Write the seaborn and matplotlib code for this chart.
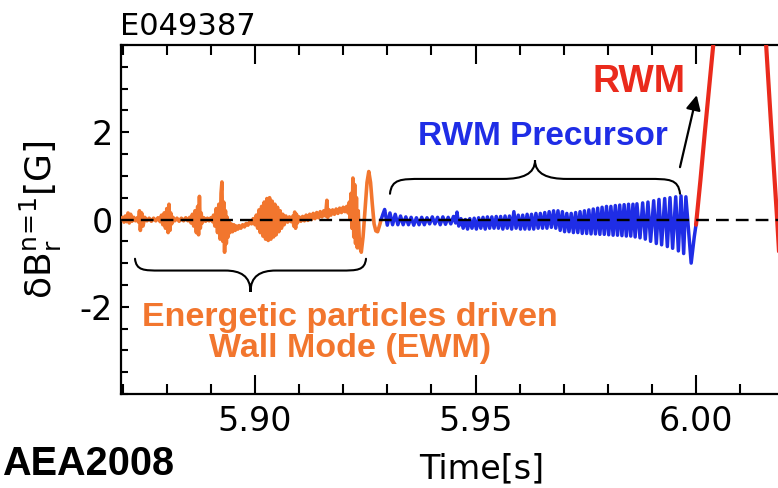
import matplotlib
matplotlib.use("Agg")
import matplotlib.pyplot as plt
from matplotlib.path import Path
from matplotlib.patches import PathPatch
from matplotlib.ticker import MultipleLocator
import seaborn as sns

# ---------------- data ----------------
orange_t = [5.8697, 5.8700, 5.8703, 5.8706, 5.8709, 5.8712, 5.8715, 5.8718, 5.8721, 5.8725,
            5.8729, 5.8733, 5.8736, 5.8738, 5.8740, 5.8743, 5.8746, 5.8750, 5.8755, 5.8760,
            5.8765, 5.8770, 5.8775, 5.8780, 5.8785, 5.8788, 5.8791, 5.8794, 5.8797, 5.8800,
            5.8803, 5.8805, 5.8807, 5.8809, 5.8811, 5.8814, 5.8818, 5.8823, 5.8828, 5.8833,
            5.8838, 5.8843, 5.8848, 5.8852, 5.8855, 5.8858, 5.8861, 5.8864, 5.8867, 5.8870,
            5.8872, 5.8874, 5.8876, 5.8878, 5.8880, 5.8884, 5.8888, 5.8892, 5.8896, 5.8900,
            5.8904, 5.8906, 5.8909, 5.8912, 5.8915, 5.8918, 5.8921, 5.8923, 5.8925, 5.8927,
            5.8929, 5.8931, 5.8933, 5.8935, 5.8937, 5.8939, 5.8941, 5.8943, 5.8946, 5.8949,
            5.8952, 5.8955, 5.8958, 5.8961, 5.8964, 5.8968, 5.8972, 5.8976, 5.8980, 5.8984,
            5.8988, 5.8992, 5.8996, 5.9000, 5.9003, 5.9006, 5.9009, 5.9012, 5.9015, 5.9018,
            5.9021, 5.9024, 5.9027, 5.9030, 5.9033, 5.9036, 5.9039, 5.9042, 5.9045, 5.9048,
            5.9051, 5.9054, 5.9057, 5.9060, 5.9063, 5.9066, 5.9070, 5.9074, 5.9078, 5.9082,
            5.9086, 5.9088, 5.9090, 5.9092, 5.9094, 5.9096, 5.9100, 5.9104, 5.9108, 5.9112,
            5.9116, 5.9120, 5.9124, 5.9128, 5.9132, 5.9136, 5.9140, 5.9144, 5.9148, 5.9152,
            5.9156, 5.9160, 5.9163, 5.9165, 5.9168, 5.9172, 5.9176, 5.9180, 5.9184, 5.9188,
            5.9192, 5.9196, 5.9200, 5.9204, 5.9208, 5.9211, 5.9214, 5.9216, 5.9218, 5.9220,
            5.9222, 5.9224, 5.9226, 5.9228, 5.9230, 5.9232, 5.9234, 5.9237, 5.9241, 5.9245,
            5.9250, 5.9254, 5.9258, 5.9262, 5.9266, 5.9270, 5.9274, 5.9278, 5.9282, 5.9286]
orange_v = [0.00, 0.05, -0.06, 0.08, -0.05, 0.15, -0.08, 0.12, -0.04, 0.05,
            -0.03, 0.04, -0.06, 0.20, -0.25, 0.15, -0.15, 0.05, -0.03, 0.03,
            -0.04, 0.03, -0.03, 0.04, -0.05, 0.10, -0.12, 0.15, -0.20, 0.25,
            -0.30, 0.35, -0.25, 0.15, -0.10, 0.05, -0.03, 0.03, -0.04, 0.03,
            -0.03, 0.04, -0.03, 0.05, -0.08, 0.12, -0.15, 0.20, -0.30, 0.30,
            -0.35, 0.53, -0.20, 0.15, -0.08, 0.04, -0.04, 0.03, -0.03, 0.04,
            -0.05, 0.10, -0.15, 0.25, -0.30, 0.35, -0.45, 0.60, 0.86, -0.50,
            0.40, -0.75, 0.20, -0.55, 0.05, -0.40, -0.05, -0.30, -0.10, -0.28,
            -0.12, -0.25, -0.15, -0.22, -0.14, -0.20, -0.12, -0.17, -0.09, -0.13,
            -0.05, -0.10, 0.02, -0.12, 0.10, -0.20, 0.22, -0.30, 0.30, -0.38,
            0.40, -0.45, 0.48, -0.48, 0.50, -0.45, 0.42, -0.40, 0.35, -0.35,
            0.28, -0.28, 0.20, -0.20, 0.12, -0.12, 0.08, -0.06, 0.06, -0.05,
            0.08, -0.15, 0.17, -0.20, 0.12, -0.08, 0.06, -0.04, 0.07, -0.03,
            0.10, -0.02, 0.12, 0.00, 0.14, 0.02, 0.16, 0.04, 0.18, 0.06,
            0.20, 0.08, 0.44, 0.05, 0.22, 0.10, 0.22, 0.12, 0.24, 0.14,
            0.26, 0.16, 0.28, 0.18, 0.30, 0.15, 0.40, 0.00, 0.60, -0.20,
            0.95, -0.40, 0.80, -0.55, 0.50, -0.65, 0.20, -0.60, -0.75, -0.40,
            0.30, 0.85, 1.10, 0.85, 0.35, -0.10, -0.26, -0.28, -0.15, 0.00]

blue_t = [5.9286, 5.9290, 5.9294, 5.9300, 5.9306, 5.9312, 5.9318, 5.9324, 5.9330, 5.9336,
          5.9342, 5.9348, 5.9354, 5.9360, 5.9366, 5.9372, 5.9378, 5.9384, 5.9390, 5.9396,
          5.9402, 5.9408, 5.9414, 5.9420, 5.9426, 5.9432, 5.9438, 5.9444, 5.9450, 5.9455,
          5.9458, 5.9462, 5.9467, 5.9472, 5.9477, 5.9482, 5.9487, 5.9492, 5.9497, 5.9502,
          5.9507, 5.9512, 5.9517, 5.9522, 5.9527, 5.9532, 5.9537, 5.9542, 5.9547, 5.9552,
          5.9557, 5.9562, 5.9567, 5.9572, 5.9577, 5.9582, 5.9587, 5.9592, 5.9597, 5.9602,
          5.9607, 5.9612, 5.9617, 5.9622, 5.9627, 5.9632, 5.9637, 5.9642, 5.9647, 5.9652,
          5.9657, 5.9662, 5.9667, 5.9672, 5.9677, 5.9682, 5.9687, 5.9692, 5.9697, 5.9702,
          5.9707, 5.9712, 5.9717, 5.9722, 5.9727, 5.9732, 5.9737, 5.9742, 5.9747, 5.9752,
          5.9757, 5.9762, 5.9767, 5.9772, 5.9777, 5.9782, 5.9787, 5.9792, 5.9797, 5.9802,
          5.9807, 5.9812, 5.9817, 5.9822, 5.9827, 5.9832, 5.9837, 5.9842, 5.9847, 5.9852,
          5.9857, 5.9862, 5.9866, 5.9873, 5.9879, 5.9885, 5.9891, 5.9897, 5.9904, 5.9910,
          5.9916, 5.9922, 5.9929, 5.9935, 5.9941, 5.9947, 5.9954, 5.9960, 5.9966, 5.9972,
          5.9977, 5.9989, 5.9996, 6.0000]
blue_v = [0.00, 0.12, 0.23, -0.13, 0.15, -0.12, 0.12, -0.12, 0.08, -0.12,
          0.06, -0.12, 0.05, -0.13, 0.04, -0.12, 0.05, -0.12, 0.04, -0.10,
          0.06, -0.10, 0.05, -0.12, 0.06, -0.11, 0.05, -0.10, 0.07, -0.08,
          0.17, -0.15, 0.02, -0.20, 0.00, -0.22, 0.02, -0.20, 0.03, -0.22,
          0.04, -0.20, 0.05, -0.22, 0.06, -0.20, 0.06, -0.20, 0.07, -0.20,
          0.07, -0.22, 0.08, -0.20, 0.08, -0.22, 0.18, -0.20, 0.10, -0.22,
          0.10, -0.22, 0.12, -0.22, 0.12, -0.22, 0.14, -0.20, 0.14, -0.20,
          0.16, -0.20, 0.18, -0.18, 0.20, -0.20, 0.20, -0.25, 0.18, -0.28,
          0.14, -0.28, 0.14, -0.30, 0.16, -0.30, 0.18, -0.32, 0.20, -0.32,
          0.22, -0.33, 0.24, -0.33, 0.26, -0.34, 0.28, -0.34, 0.30, -0.35,
          0.30, -0.36, 0.32, -0.36, 0.33, -0.37, 0.34, -0.38, 0.35, -0.38,
          0.35, -0.40, 0.36, -0.42, 0.38, -0.45, 0.40, -0.50, 0.43, -0.55,
          0.46, -0.58, 0.48, -0.62, 0.50, -0.66, 0.52, -0.72, 0.54, -0.78,
          0.52, -1.00, -0.40, -0.12]

red_t = [6.0000, 6.0010, 6.0020, 6.0030, 6.0040, 6.0060, 6.0085, 6.0110, 6.0135, 6.0159,
         6.0170, 6.0184, 6.0200]
red_v = [-0.12, 0.90, 2.00, 3.05, 4.10, 6.00, 7.40, 7.50, 6.20, 4.00,
         2.20, 0.00, -2.80]

xtick_vals = [5.90, 5.95, 6.00]
xtick_labels = ["5.90", "5.95", "6.00"]
ytick_vals = [-2, 0, 2]
ytick_labels = ["-2", "0", "2"]

ORANGE = "#F2762E"
BLUE = "#1F2DE6"
RED = "#EA2A1C"

# ---------------- style ----------------
sns.set_style("ticks")
plt.rcParams["font.family"] = ["DejaVu Sans"]
plt.rcParams["mathtext.fontset"] = "dejavusans"
plt.rcParams["axes.unicode_minus"] = False
for key in ["text.color", "axes.labelcolor", "xtick.color", "ytick.color", "axes.edgecolor"]:
    plt.rcParams[key] = "black"

BOLD = ["Liberation Sans", "DejaVu Sans"]

fig = plt.figure(figsize=(7.78, 4.88), dpi=100)
# axes continues past the right edge of the picture (cropped figure)
ax = fig.add_axes([0.15553, 0.19262, 0.92802, 0.71516])

sns.lineplot(x=orange_t, y=orange_v, ax=ax, color=ORANGE, lw=2.6,
             sort=False, estimator=None, zorder=3)
sns.lineplot(x=blue_t, y=blue_v, ax=ax, color=BLUE, lw=2.5,
             sort=False, estimator=None, zorder=3)
sns.lineplot(x=red_t, y=red_v, ax=ax, color=RED, lw=3.0,
             sort=False, estimator=None, zorder=3)

ax.axhline(0, color="black", lw=1.7, dashes=(5.4, 3.0), zorder=5)

ax.set_xlim(5.869615, 6.03333)
ax.set_ylim(-4, 4)
ax.set_xticks(xtick_vals)
ax.set_xticklabels(xtick_labels)
ax.set_yticks(ytick_vals)
ax.set_yticklabels(ytick_labels)
ax.xaxis.set_minor_locator(MultipleLocator(0.01))
ax.yaxis.set_minor_locator(MultipleLocator(0.5))

for s in ax.spines.values():
    s.set_linewidth(1.6)
    s.set_color("black")

ax.tick_params(axis="both", which="both", direction="in", top=True, right=False,
               width=1.5, colors="black", labelsize=24)
ax.tick_params(axis="x", which="major", length=13.5, pad=8)
ax.tick_params(axis="x", which="minor", length=7.5)
ax.tick_params(axis="y", which="major", length=6, pad=6)
ax.tick_params(axis="y", which="minor", length=5)

ax.set_xlabel("Time[s]", fontsize=24)
ax.xaxis.set_label_coords(0.5, -0.166)
ax.set_ylabel(r"δB$_\mathregular{r}^\mathregular{n\!=\!1}$[G]", fontsize=26)
ax.yaxis.set_label_coords(-0.079, 0.5)


def brace(ax, x0, x1, y_end, y_body, y_tip, lw=1.5):
    xm = (x0 + x1) / 2.0
    r = (x1 - x0) * 0.11
    yk = y_body + 0.25 * (y_tip - y_body)
    verts = [
        (x0, y_end),
        (x0 + 0.05 * r, y_body), (x0 + 0.35 * r, y_body), (x0 + r, y_body),
        (xm - r, y_body),
        (xm - 0.4 * r, y_body), (xm, yk), (xm, y_tip),
        (xm, yk), (xm + 0.4 * r, y_body), (xm + r, y_body),
        (x1 - r, y_body),
        (x1 - 0.35 * r, y_body), (x1 - 0.05 * r, y_body), (x1, y_end),
    ]
    codes = ([Path.MOVETO] + [Path.CURVE4] * 3 + [Path.LINETO] + [Path.CURVE4] * 6
             + [Path.LINETO] + [Path.CURVE4] * 3)
    ax.add_patch(PathPatch(Path(verts, codes), fill=False, lw=lw, color="black",
                           capstyle="round", zorder=4))


# EWM brace (points down) and precursor brace (points up)
brace(ax, 5.87279, 5.92517, -0.90, -1.17, -1.66)
brace(ax, 5.93061, 5.99637, 0.59, 0.93, 1.36)

ax.text(5.92154, -2.44, "Energetic particles driven", ha="center", va="baseline",
        color=ORANGE, fontsize=24.5, fontweight="bold", family=BOLD)
ax.text(5.92154, -3.15, "Wall Mode (EWM)", ha="center", va="baseline",
        color=ORANGE, fontsize=24.5, fontweight="bold", family=BOLD)
ax.text(5.96538, 1.70, "RWM Precursor", ha="center", va="baseline",
        color=BLUE, fontsize=24, fontweight="bold", family=BOLD)
ax.text(5.98707, 2.93, "RWM", ha="center", va="baseline",
        color=RED, fontsize=27, fontweight="bold", family=BOLD)

ax.annotate("", xy=(6.00016, 2.85), xytext=(5.99637, 1.20),
            arrowprops=dict(arrowstyle="-|>", lw=1.6, color="black",
                            mutation_scale=22, shrinkA=0, shrinkB=0))

fig.text(120 / 778, (488 - 35) / 488, "E049387", fontsize=22, ha="left", va="baseline")
fig.text(2 / 778, (488 - 475) / 488, "AEA2008", fontsize=28.5, fontweight="bold",
         family=BOLD, ha="left", va="baseline")

fig.savefig("out.png", dpi=100)
